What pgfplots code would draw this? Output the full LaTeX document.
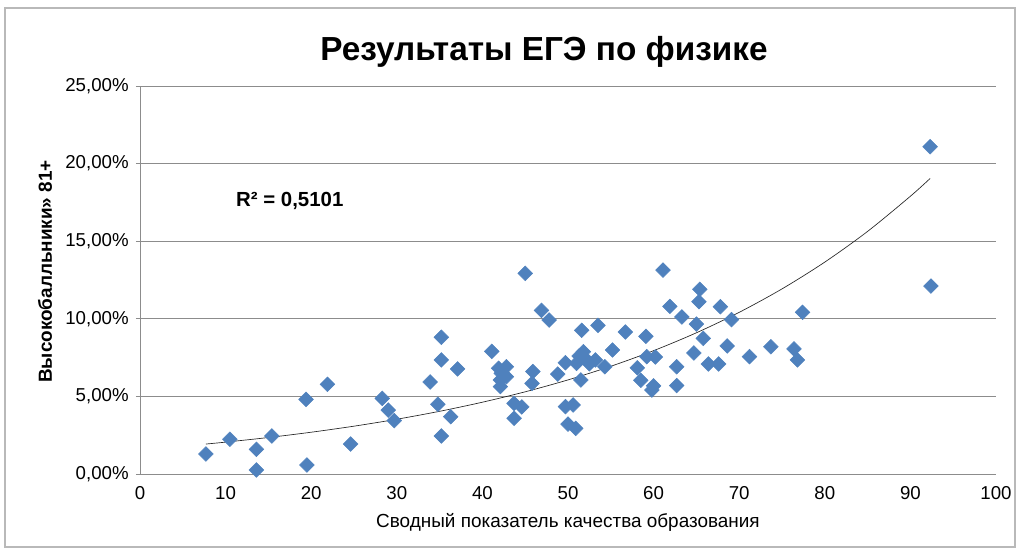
\documentclass[border=0pt]{standalone}
\usepackage{fontspec}
\setmainfont{Liberation Sans}
\usepackage{pgfplots}
\pgfplotsset{compat=1.18}
\definecolor{exblue}{HTML}{4F81BD}
\definecolor{gridgray}{HTML}{8C8C8C}
\begin{document}
\begin{tikzpicture}
\useasboundingbox (-105pt,-57pt) rectangle (660.75pt,355.5pt);
\draw[gray!55, line width=0.8pt] (-101.25pt,-54.75pt) rectangle (656.25pt,349.5pt);
\begin{axis}[
  at={(0pt,0pt)}, anchor=south west,
  scale only axis, width=642pt, height=291pt,
  xmin=0, xmax=100, ymin=0, ymax=25,
  xtick={0,10,...,100},
  ytick={0,5,...,25},
  yticklabels={{0,00\%},{5,00\%},{10,00\%},{15,00\%},{20,00\%},{25,00\%}},
  /pgf/number format/assume math mode=true,
  axis lines=left,
  axis line style={-, gridgray, line width=0.6pt},
  ymajorgrids,
  grid style={gridgray, line width=0.6pt},
  x tick style={draw=none},
  y tick style={gridgray, line width=0.6pt},
  major tick length=3pt,
  tick align=outside,
  tick label style={font=\fontsize{14}{16}\selectfont},
  yticklabel style={xshift=-2pt},
  xticklabel style={yshift=-3pt},
  title={Результаты ЕГЭ по физике},
  title style={at={(axis description cs:0.472,1.068)}, anchor=center, yshift=0pt, font=\fontsize{25}{30}\selectfont\bfseries},
  xlabel={Сводный показатель качества образования},
  xlabel style={at={(axis description cs:0.5,-0.124)}, anchor=center, font=\fontsize{14.2}{16}\selectfont},
  ylabel={Высокобалльники» 81+},
  ylabel style={at={(axis description cs:-0.111,0.522)}, anchor=center, font=\fontsize{14.2}{16}\selectfont\bfseries},
  clip=false,
]
\addplot[only marks, mark=square*, mark size=3.9pt, mark options={rotate=45, fill=exblue, draw=exblue}] coordinates {
(7.7,1.29) (10.5,2.24) (13.6,1.59) (13.6,0.26) (15.4,2.45) (19.4,4.81) (19.5,0.58) (21.9,5.78) (24.6,1.93)
(28.3,4.87) (29.0,4.12) (29.7,3.44) (33.9,5.93) (34.8,4.49) (35.2,8.81) (35.2,7.35) (35.2,2.45) (36.3,3.69)
(37.1,6.77) (41.1,7.90) (41.9,6.81) (42.8,6.91) (42.1,6.06) (42.8,6.27) (42.1,5.63) (42.2,6.49) (43.7,4.55)
(44.6,4.32) (43.7,3.59) (45.0,12.93) (45.9,6.60) (45.8,5.84) (46.9,10.54) (47.8,9.92) (48.8,6.44) (49.7,7.17)
(49.7,4.34) (50.6,4.45) (50.0,3.22) (50.9,2.94) (51.6,9.26) (51.0,7.13) (51.8,7.88) (52.2,7.35) (51.5,6.06)
(53.2,7.35) (53.5,9.58) (54.3,6.91) (55.2,7.99) (56.7,9.15) (58.1,6.84) (58.5,6.04) (59.1,8.87) (59.2,7.56)
(60.2,7.54) (60.0,5.68) (59.8,5.41) (61.1,13.14) (61.9,10.80) (62.7,6.91) (62.7,5.70) (63.3,10.12) (64.7,7.80)
(65.4,11.90) (65.3,11.10) (67.8,10.78) (69.1,9.95) (77.4,10.42) (65.0,9.66) (65.8,8.74) (68.6,8.25) (66.4,7.09)
(67.6,7.09) (71.2,7.56) (73.7,8.20) (76.4,8.06) (76.8,7.35) (92.3,21.09) (92.4,12.11) (51.3,7.60) (52.5,7.10)
};
\addplot[black!85, line width=0.5pt, smooth] coordinates {
(7.7,1.930) (10,2.054) (15,2.351) (20,2.692) (25,3.082) (30,3.529) (35,4.040) (40,4.626) (45,5.296)
(50,6.063) (55,6.941) (60,7.947) (65,9.099) (70,10.417) (75,11.927) (80,13.655) (85,15.633) (90,17.898) (92.3,19.041)
};
\node[font=\fontsize{15.3}{17}\selectfont\bfseries] at (axis cs:17.5,17.6) {R² = 0,5101};
\end{axis}
\end{tikzpicture}
\end{document}
